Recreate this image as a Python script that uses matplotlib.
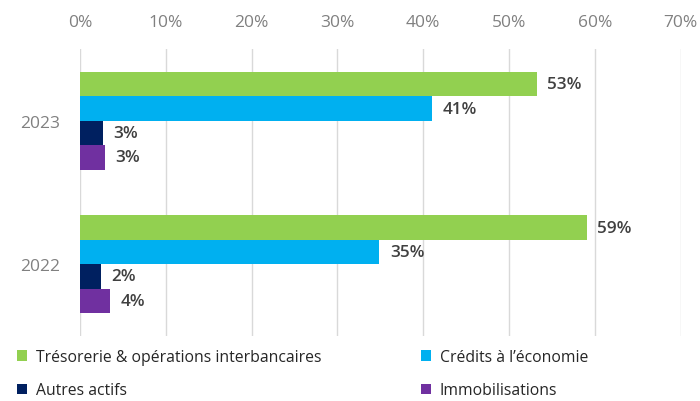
import matplotlib.pyplot as plt
import numpy as np

plt.rcParams.update({"font.family": ["Open Sans", "DejaVu Sans"]})

years = ["2023", "2022"]
series = ["Trésorerie & opérations interbancaires", "Crédits à l’économie",
          "Autres actifs", "Immobilisations"]
tresorerie = [53.2, 59.05]
credits = [41.0, 34.9]
autres = [2.7, 2.4]
immo = [2.95, 3.5]
colors = ["#92D050", "#00B0F0", "#002060", "#7030A0"]

fig = plt.figure(figsize=(7, 4.02), dpi=100)
ax = fig.add_axes([80 / 700, 1 - 337 / 402, 600.7 / 700, 287 / 402])

y = np.arange(len(years))
h = 0.1707
bars = []
for j, (vals, col) in enumerate(zip([tresorerie, credits, autres, immo], colors)):
    b = ax.barh(y + (j - 1.5) * h, vals, height=h, color=col, label=series[j], zorder=3)
    ax.bar_label(b, labels=[f"{round(v)}%" for v in vals], padding=7.5,
                 fontsize=12.3, fontweight="semibold", color="#404040")
    bars.append(b)

ax.set_xlim(0, 70)
ax.set_ylim(1.5, -0.5)
ax.set_xticks(np.arange(0, 71, 10))
ax.set_xticklabels([f"{t}%" for t in range(0, 71, 10)])
ax.set_yticks(y)
ax.set_yticklabels(years)
ax.xaxis.tick_top()
ax.tick_params(axis="x", length=0, pad=14, labelsize=12.5, labelcolor="#808080")
ax.tick_params(axis="y", length=0, pad=14, labelsize=12.5, labelcolor="#808080")
ax.grid(axis="x", color="#d9d9d9", linewidth=1, zorder=0)
for s in ax.spines.values():
    s.set_visible(False)

# legend: two columns, filled column-wise
order = [0, 2, 1, 3]
fig.legend([bars[i] for i in order], [series[i] for i in order], ncol=2,
           loc="upper left", bbox_to_anchor=(17 / 700, 1 - 350 / 402), frameon=False,
           borderpad=0, borderaxespad=0,
           fontsize=11.35, handlelength=0.63, handleheight=0.63, handletextpad=0.58,
           columnspacing=6.3, labelspacing=1.1, labelcolor="#262626")

fig.savefig("out.png", dpi=100)
